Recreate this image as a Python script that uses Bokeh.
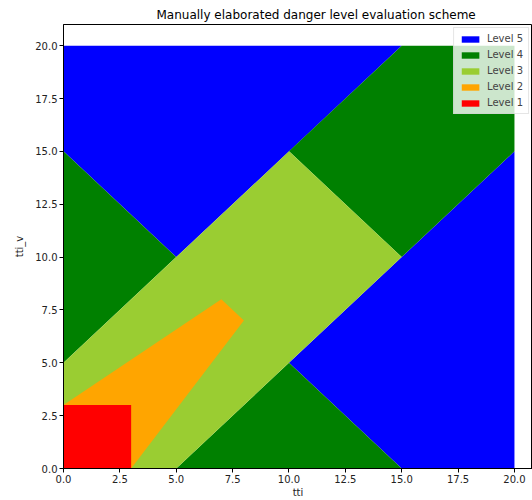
from bokeh.plotting import figure
from bokeh.models import Range1d, SingleIntervalTicker, PrintfTickFormatter
from bokeh.embed import file_html
from bokeh.resources import INLINE

# Danger levels (legend order) and their colours
levels = ["Level 5", "Level 4", "Level 3", "Level 2", "Level 1"]
colors = ["blue", "green", "yellowgreen", "orange", "red"]

# Polygons of each level region (tti, tti_v)
level5_xs = [[0, 5, 15, 0], [10, 15, 20, 20, 15]]
level5_ys = [[15, 10, 20, 20], [5, 0, 0, 15, 10]]
level4_xs = [[0, 0, 5], [10, 15, 20, 20, 15], [5, 15, 10]]
level4_ys = [[5, 15, 10], [15, 20, 20, 15, 10], [0, 0, 5]]
level3_xs = [[0, 0, 10, 15, 5]]
level3_ys = [[0, 5, 15, 10, 0]]
level2_xs = [[0, 0, 7, 8, 3]]
level2_ys = [[0, 3, 8, 7, 0]]
level1_xs = [[0, 0, 3, 3]]
level1_ys = [[0, 3, 3, 0]]

all_xs = [level5_xs, level4_xs, level3_xs, level2_xs, level1_xs]
all_ys = [level5_ys, level4_ys, level3_ys, level2_ys, level1_ys]

p = figure(width=532, height=500, output_backend="svg", toolbar_location=None,
           x_range=Range1d(0, 20.8), y_range=Range1d(0, 21),
           min_border_left=63, min_border_right=0, min_border_top=24, min_border_bottom=27)

p.title.text = "Manually elaborated danger level evaluation scheme"
p.title.align = "left"
p.title.offset = 93
p.title.text_font = "DejaVu Sans"
p.title.text_font_size = "12px"
p.title.text_font_style = "normal"
p.title.text_color = "black"
p.title.standoff = 6

for name, col, xs, ys in zip(levels, colors, all_xs, all_ys):
    p.patches(xs=xs, ys=ys, fill_color=col, line_color=None, legend_label=name)

p.xgrid.visible = False
p.ygrid.visible = False
p.outline_line_color = "black"
p.outline_line_width = 1
p.outline_line_alpha = 1

for ax in (p.xaxis[0], p.yaxis[0]):
    ax.ticker = SingleIntervalTicker(interval=2.5, num_minor_ticks=0)
    ax.formatter = PrintfTickFormatter(format="%.1f")
    ax.major_label_text_font = "DejaVu Sans"
    ax.major_label_text_font_size = "10px"
    ax.major_label_text_color = "#222222"
    ax.axis_label_text_font = "DejaVu Sans"
    ax.axis_label_text_font_size = "10px"
    ax.axis_label_text_font_style = "normal"
    ax.axis_label_text_color = "#222222"
    ax.major_tick_out = 4
    ax.major_tick_in = 0
    ax.minor_tick_out = 0
    ax.minor_tick_in = 0
    ax.axis_line_color = "black"
    ax.major_tick_line_color = "black"
    ax.major_label_standoff = 2

p.xaxis.axis_label = "tti"
p.yaxis.axis_label = "tti_v"
p.xaxis.axis_label_standoff = 1
p.yaxis.axis_label_standoff = 7

lg = p.legend[0]
lg.location = "top_right"
lg.label_text_font = "DejaVu Sans"
lg.label_text_font_size = "10px"
lg.glyph_width = 22
lg.glyph_height = 8
lg.spacing = 5
lg.padding = 5
lg.margin = 3
lg.label_height = 11
lg.label_standoff = 6
lg.background_fill_alpha = 0.8
lg.border_line_color = "#cccccc"

open("out.html", "w").write(file_html(p, INLINE))
